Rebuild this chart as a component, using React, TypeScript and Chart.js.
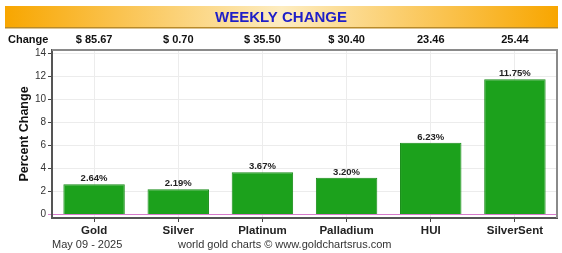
import React, { useEffect, useRef } from "react";
import { Chart, registerables } from "chart.js";

Chart.register(...registerables);

const categories = ["Gold", "Silver", "Platinum", "Palladium", "HUI", "SilverSent"];
const percentChange = [2.64, 2.19, 3.67, 3.2, 6.23, 11.75];
const changeLabels = ["$ 85.67", "$ 0.70", "$ 35.50", "$ 30.40", "23.46", "25.44"];
const yTicks = [0, 2, 4, 6, 8, 10, 12, 14];
const titleText = "WEEKLY CHANGE";
const dateText = "May 09 - 2025";
const creditText = "world gold charts \u00a9 www.goldchartsrus.com";

const FONT = "'Liberation Sans', Arial, sans-serif";

export default function App() {
  const ref = useRef<HTMLCanvasElement | null>(null);

  useEffect(() => {
    document.body.style.margin = "0";
    const canvas = ref.current;
    if (!canvas) return;

    const decor = {
      id: "decor",
      afterDatasetsDraw(chart: any) {
        const ctx = chart.ctx;
        const meta = chart.getDatasetMeta(0);
        ctx.save();
        ctx.fillStyle = "#222";
        ctx.font = `bold 9.5px ${FONT}`;
        ctx.textAlign = "center";
        ctx.textBaseline = "bottom";
        meta.data.forEach((bar: any, i: number) => {
          ctx.fillText(percentChange[i].toFixed(2) + "%", bar.x, bar.y - 1);
        });
        ctx.restore();
      },
      afterDraw(chart: any) {
        const ctx = chart.ctx;
        const area = chart.chartArea;
        const xs = chart.scales.x;
        ctx.save();
        // banner
        const bx = 5, by = 6, bw = 553, bh = 22;
        const g = ctx.createLinearGradient(bx, 0, bx + bw, 0);
        g.addColorStop(0, "#f8a600");
        g.addColorStop(0.5, "#fdecc0");
        g.addColorStop(1, "#f8a600");
        ctx.fillStyle = g;
        ctx.fillRect(bx, by, bw, bh);
        ctx.fillStyle = "#b88a2a";
        ctx.fillRect(bx, by + bh - 1, bw, 1.5);
        ctx.fillStyle = "#1e1ec8";
        ctx.font = `bold 15px ${FONT}`;
        ctx.textAlign = "center";
        ctx.textBaseline = "middle";
        ctx.fillText(titleText, 281, by + bh / 2 + 0.5);

        // change row
        ctx.fillStyle = "#111";
        ctx.font = `bold 11px ${FONT}`;
        ctx.textAlign = "left";
        ctx.fillText("Change", 8, 40);
        ctx.textAlign = "center";
        changeLabels.forEach((t, i) => {
          ctx.fillText(t, xs.getPixelForValue(i), 40);
        });

        // frame top & right
        ctx.strokeStyle = "#8a8a8a";
        ctx.lineWidth = 2;
        ctx.beginPath();
        ctx.moveTo(area.left, area.top);
        ctx.lineTo(area.right, area.top);
        ctx.lineTo(area.right, area.bottom);
        ctx.stroke();

        // y title
        ctx.save();
        ctx.translate(25, (area.top + area.bottom) / 2);
        ctx.rotate(-Math.PI / 2);
        ctx.fillStyle = "#111";
        ctx.font = `bold 12.5px ${FONT}`;
        ctx.textAlign = "center";
        ctx.textBaseline = "middle";
        ctx.fillText("Percent Change", 0, 0);
        ctx.restore();

        // footer
        ctx.fillStyle = "#333";
        ctx.font = `11px ${FONT}`;
        ctx.textAlign = "left";
        ctx.textBaseline = "middle";
        ctx.fillText(dateText, 52, 245);
        ctx.fillText(creditText, 178, 245);
        ctx.restore();
      },
    };

    const chart = new Chart(canvas, {
      type: "bar",
      data: {
        labels: categories,
        datasets: [
          {
            data: percentChange,
            backgroundColor: "#1ca11c",
            borderColor: "#178c17",
            borderWidth: 1,
            barPercentage: 0.73,
            categoryPercentage: 1,
          },
        ],
      },
      options: {
        responsive: false,
        animation: false,
        layout: { padding: { top: 50, right: 5, left: 0, bottom: 0 } },
        plugins: { legend: { display: false }, tooltip: { enabled: false }, title: { display: false } },
        scales: {
          x: {
            grid: {
              offset: false,
              color: "#ececec",
              tickColor: "#444",
              tickLength: 4,
            },
            border: { color: "#555", width: 2 },
            ticks: {
              color: "#222",
              font: { family: FONT, size: 11.5, weight: "bold" },
              padding: 2,
              maxRotation: 0,
            },
            afterFit(scale: any) {
              scale.height = 35;
            },
          },
          y: {
            min: -0.3,
            max: 14.3,
            grid: {
              color: (c: any) => (c.tick && c.tick.value === 0 ? "#d77ccc" : "#ececec"),
              tickColor: (c: any) => (c.tick && c.tick.value === 0 ? "#d77ccc" : "#444"),
              tickLength: 4,
            },
            border: { color: "#555", width: 2 },
            ticks: {
              color: "#333",
              font: { family: FONT, size: 10 },
              padding: 2,
            },
            afterBuildTicks(scale: any) {
              scale.ticks = yTicks.map((v) => ({ value: v }));
            },
            afterFit(scale: any) {
              scale.width = 52;
            },
          },
        },
      },
      plugins: [decor],
    } as any);

    return () => chart.destroy();
  }, []);

  return (
    <div style={{ width: 562, height: 253, background: "#fff" }}>
      <canvas ref={ref} width={562} height={253} style={{ display: "block" }} />
    </div>
  );
}
